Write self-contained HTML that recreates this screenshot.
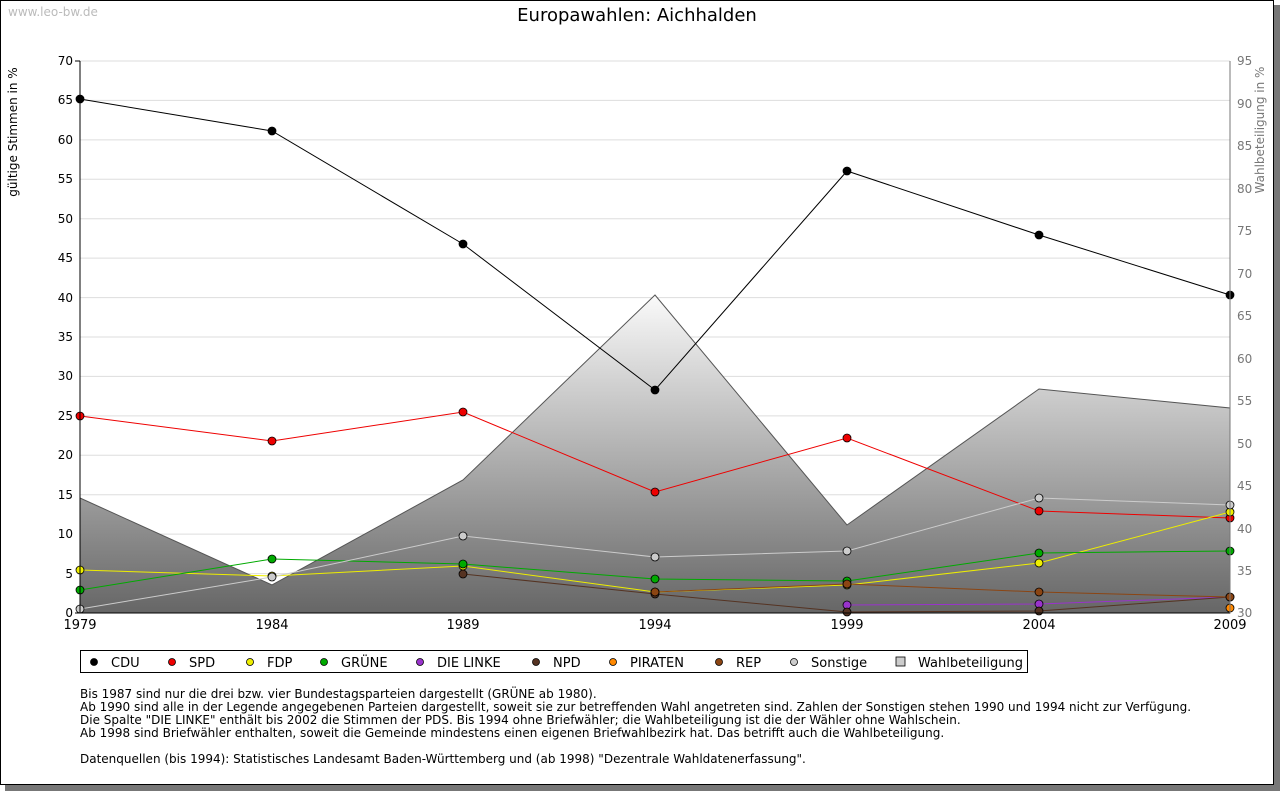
<!DOCTYPE html><html><head><meta charset="utf-8"><style>
body{margin:0;background:#fff;width:1280px;height:791px;overflow:hidden;font-family:"Liberation Sans","DejaVu Sans",sans-serif}
</style></head><body>
<svg width="1280" height="791" xmlns="http://www.w3.org/2000/svg" font-family="DejaVu Sans, Liberation Sans, sans-serif">
<rect x="5" y="5" width="1275" height="786" fill="#777"/>
<rect x="0.5" y="0.5" width="1273" height="784" fill="#fff" stroke="#000"/>
<text x="8" y="16" font-size="12" fill="#bbb">www.leo-bw.de</text>
<text x="637" y="21" font-size="18" text-anchor="middle">Europawahlen: Aichhalden</text>
<defs><linearGradient id="g" x1="0" y1="295" x2="0" y2="613" gradientUnits="userSpaceOnUse"><stop offset="0" stop-color="#fafafa"/><stop offset="1" stop-color="#666"/></linearGradient></defs>
<g stroke="#ddd">
<line x1="80" x2="1230" y1="61" y2="61"/><line x1="80" x2="1230" y1="100.4" y2="100.4"/><line x1="80" x2="1230" y1="139.9" y2="139.9"/><line x1="80" x2="1230" y1="179.3" y2="179.3"/><line x1="80" x2="1230" y1="218.7" y2="218.7"/><line x1="80" x2="1230" y1="258.1" y2="258.1"/><line x1="80" x2="1230" y1="297.6" y2="297.6"/><line x1="80" x2="1230" y1="337" y2="337"/><line x1="80" x2="1230" y1="376.4" y2="376.4"/><line x1="80" x2="1230" y1="415.9" y2="415.9"/><line x1="80" x2="1230" y1="455.3" y2="455.3"/><line x1="80" x2="1230" y1="494.7" y2="494.7"/><line x1="80" x2="1230" y1="534.1" y2="534.1"/><line x1="80" x2="1230" y1="573.6" y2="573.6"/>
</g>
<polygon points="80,498 272,585 463,480 655,295 847,525 1039,389 1230,408 1230,613 80,613" fill="url(#g)" stroke="#555" stroke-width="1"/>
<g fill="none" stroke-width="1">
<polyline stroke="#000" points="80,99 272,131 463,244 655,390 847,171 1039,235 1230,295"/>
<polyline stroke="#e00" points="80,416 272,441 463,412 655,492 847,438 1039,511 1230,518"/>
<polyline stroke="#ee0" points="80,570 272,576 463,566 655,592 847,585 1039,563 1230,512"/>
<polyline stroke="#0a0" points="80,590 272,559 463,564 655,579 847,581 1039,553 1230,551"/>
<polyline stroke="#93c" points="847,605 1039,604 1230,597"/>
<polyline stroke="#553322" points="463,574 655,594 847,612 1039,611 1230,597"/>
<polyline stroke="#8b4513" points="655,592 847,584 1039,592 1230,597"/>
<polyline stroke="#ccc" points="80,609 272,577 463,536 655,557 847,551 1039,498 1230,505"/>
</g>
<g stroke="#000" stroke-width="0.8">
<g fill="#000"><circle cx="80" cy="99" r="4"/><circle cx="272" cy="131" r="4"/><circle cx="463" cy="244" r="4"/><circle cx="655" cy="390" r="4"/><circle cx="847" cy="171" r="4"/><circle cx="1039" cy="235" r="4"/><circle cx="1230" cy="295" r="4"/></g>
<g fill="#e00"><circle cx="80" cy="416" r="4"/><circle cx="272" cy="441" r="4"/><circle cx="463" cy="412" r="4"/><circle cx="655" cy="492" r="4"/><circle cx="847" cy="438" r="4"/><circle cx="1039" cy="511" r="4"/><circle cx="1230" cy="518" r="4"/></g>
<g fill="#ee0"><circle cx="80" cy="570" r="4"/><circle cx="272" cy="576" r="4"/><circle cx="463" cy="566" r="4"/><circle cx="655" cy="592" r="4"/><circle cx="847" cy="585" r="4"/><circle cx="1039" cy="563" r="4"/><circle cx="1230" cy="512" r="4"/></g>
<g fill="#0a0"><circle cx="80" cy="590" r="4"/><circle cx="272" cy="559" r="4"/><circle cx="463" cy="564" r="4"/><circle cx="655" cy="579" r="4"/><circle cx="847" cy="581" r="4"/><circle cx="1039" cy="553" r="4"/><circle cx="1230" cy="551" r="4"/></g>
<g fill="#93c"><circle cx="847" cy="605" r="4"/><circle cx="1039" cy="604" r="4"/><circle cx="1230" cy="597" r="4"/></g>
<g fill="#553322"><circle cx="463" cy="574" r="4"/><circle cx="655" cy="594" r="4"/><circle cx="847" cy="612" r="4"/><circle cx="1039" cy="611" r="4"/></g>
<g fill="#8b4513"><circle cx="655" cy="592" r="4"/><circle cx="847" cy="584" r="4"/><circle cx="1039" cy="592" r="4"/><circle cx="1230" cy="597" r="4"/></g>
<circle cx="1230" cy="608" r="4" fill="#f80"/>
<g fill="#ccc"><circle cx="80" cy="609" r="4"/><circle cx="272" cy="577" r="4"/><circle cx="463" cy="536" r="4"/><circle cx="655" cy="557" r="4"/><circle cx="847" cy="551" r="4"/><circle cx="1039" cy="498" r="4"/><circle cx="1230" cy="505" r="4"/></g>
</g>
<line x1="80" y1="61" x2="80" y2="613" stroke="#000"/>
<line x1="80" y1="613" x2="1230" y2="613" stroke="#000"/>
<line x1="1230" y1="61" x2="1230" y2="613" stroke="#777"/>
<g font-size="12" text-anchor="end">
<text x="73" y="65">70</text><text x="73" y="104">65</text><text x="73" y="144">60</text><text x="73" y="183">55</text><text x="73" y="223">50</text><text x="73" y="262">45</text><text x="73" y="302">40</text><text x="73" y="341">35</text><text x="73" y="380">30</text><text x="73" y="420">25</text><text x="73" y="459">20</text><text x="73" y="499">15</text><text x="73" y="538">10</text><text x="73" y="578">5</text><text x="73" y="617">0</text>
</g>
<g stroke="#000"><line x1="75" x2="80" y1="61" y2="61"/><line x1="75" x2="80" y1="613" y2="613"/></g>
<g font-size="12" fill="#777">
<text x="1237" y="65">95</text><text x="1237" y="108">90</text><text x="1237" y="150">85</text><text x="1237" y="193">80</text><text x="1237" y="235">75</text><text x="1237" y="278">70</text><text x="1237" y="320">65</text><text x="1237" y="363">60</text><text x="1237" y="405">55</text><text x="1237" y="448">50</text><text x="1237" y="490">45</text><text x="1237" y="533">40</text><text x="1237" y="575">35</text><text x="1237" y="617">30</text>
</g>
<g font-size="13" text-anchor="middle">
<text x="80" y="629">1979</text><text x="272" y="629">1984</text><text x="463" y="629">1989</text><text x="655" y="629">1994</text><text x="847" y="629">1999</text><text x="1039" y="629">2004</text><text x="1230" y="629">2009</text>
</g>
<text transform="translate(17,132) rotate(-90)" font-size="12" text-anchor="middle">gültige Stimmen in %</text>
<text transform="translate(1264,130) rotate(-90)" font-size="12" text-anchor="middle" fill="#777">Wahlbeteiligung in %</text>
<rect x="80.5" y="650.5" width="947" height="22" fill="#fff" stroke="#000"/>
<g font-size="13" stroke="#000" stroke-width="0.8">
<circle cx="94" cy="662" r="3.5" fill="#000"/><circle cx="172" cy="662" r="3.5" fill="#e00"/><circle cx="250" cy="662" r="3.5" fill="#ee0"/><circle cx="324" cy="662" r="3.5" fill="#0a0"/><circle cx="420" cy="662" r="3.5" fill="#93c"/><circle cx="536" cy="662" r="3.5" fill="#553322"/><circle cx="613" cy="662" r="3.5" fill="#f80"/><circle cx="719" cy="662" r="3.5" fill="#8b4513"/><circle cx="794" cy="662" r="3.5" fill="#ccc"/><rect x="896" y="657" width="9" height="9" fill="#ccc"/>
</g>
<g font-size="13">
<text x="111" y="667">CDU</text><text x="189" y="667">SPD</text><text x="267" y="667">FDP</text><text x="341" y="667">GRÜNE</text><text x="437" y="667">DIE LINKE</text><text x="553" y="667">NPD</text><text x="630" y="667">PIRATEN</text><text x="736" y="667">REP</text><text x="811" y="667">Sonstige</text><text x="918" y="667">Wahlbeteiligung</text>
</g>
<g font-size="12">
<text x="80" y="698">Bis 1987 sind nur die drei bzw. vier Bundestagsparteien dargestellt (GRÜNE ab 1980).</text>
<text x="80" y="711">Ab 1990 sind alle in der Legende angegebenen Parteien dargestellt, soweit sie zur betreffenden Wahl angetreten sind. Zahlen der Sonstigen stehen 1990 und 1994 nicht zur Verfügung.</text>
<text x="80" y="724">Die Spalte "DIE LINKE" enthält bis 2002 die Stimmen der PDS. Bis 1994 ohne Briefwähler; die Wahlbeteiligung ist die der Wähler ohne Wahlschein.</text>
<text x="80" y="737">Ab 1998 sind Briefwähler enthalten, soweit die Gemeinde mindestens einen eigenen Briefwahlbezirk hat. Das betrifft auch die Wahlbeteiligung.</text>
<text x="80" y="763">Datenquellen (bis 1994): Statistisches Landesamt Baden-Württemberg und (ab 1998) "Dezentrale Wahldatenerfassung".</text>
</g>
</svg>
</body></html>
